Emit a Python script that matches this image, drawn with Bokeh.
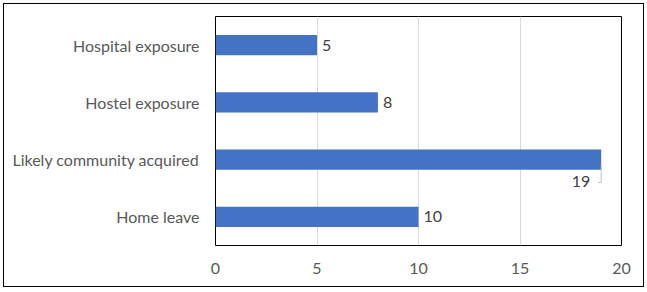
from bokeh.plotting import figure
from bokeh.models import ColumnDataSource, Range1d, FactorRange, FixedTicker, InlineStyleSheet
from bokeh.transform import dodge
from bokeh.core.properties import value
from bokeh.embed import file_html
from bokeh.resources import INLINE

categories = ["Hospital exposure", "Hostel exposure", "Likely community acquired", "Home leave"]
counts = [5, 8, 19, 10]
x_ticks = [0, 5, 10, 15, 20]

FONT = "Lato"
LABEL_COLOR = "#595959"
BAR_COLOR = "#4472C4"

p = figure(width=647, height=292, output_backend="svg", toolbar_location=None,
           y_range=FactorRange(factors=list(reversed(categories))),
           x_range=Range1d(0, 20),
           min_border_left=215, min_border_right=26, min_border_top=16, min_border_bottom=47)

# outer chart border (drawn as an overlay on the figure's host element)
p.stylesheets = [InlineStyleSheet(css="""
:host { position: relative; }
:host::after {
  content: ""; position: absolute; left: 3px; top: 3px; right: 3px; bottom: 5px;
  border: 1px solid black; pointer-events: none; z-index: 1000;
}
""")]

src = ColumnDataSource(dict(cat=categories, val=counts, lbl=[str(v) for v in counts]))
p.hbar(y="cat", right="val", left=0, height=0.35, source=src, color=BAR_COLOR, line_color=None)

maxv = max(counts)
normal = ColumnDataSource(dict(cat=[c for c, v in zip(categories, counts) if v != maxv],
                               val=[v for v in counts if v != maxv],
                               lbl=[str(v) for v in counts if v != maxv]))
callout = ColumnDataSource(dict(cat=[c for c, v in zip(categories, counts) if v == maxv],
                                val=[v for v in counts if v == maxv],
                                lbl=[str(v) for v in counts if v == maxv]))

p.text(x="val", y="cat", text="lbl", source=normal, x_offset=5, text_baseline="middle",
       text_align="left", text_font=value(FONT), text_font_size="16px", text_color="#404040")
p.text(x="val", y="cat", text="lbl", source=callout, x_offset=-11, y_offset=22, text_baseline="middle",
       text_align="right", text_font=value(FONT), text_font_size="16px", text_color="#404040")

# leader line for callout label
p.segment(x0="val", x1="val", y0=dodge("cat", -0.1, range=p.y_range), y1=dodge("cat", -0.4, range=p.y_range),
          source=callout, line_color="#bfbfbf", line_width=1)
p.segment(x0="val", x1=dodge("val", -0.15), y0=dodge("cat", -0.4, range=p.y_range),
          y1=dodge("cat", -0.4, range=p.y_range), source=callout, line_color="#bfbfbf", line_width=1)

p.outline_line_color = "black"
p.outline_line_width = 1

p.xaxis.ticker = FixedTicker(ticks=x_ticks)
p.xgrid.ticker = FixedTicker(ticks=x_ticks)
p.xgrid.grid_line_color = "#d9d9d9"
p.ygrid.grid_line_color = None

for ax in (p.xaxis, p.yaxis):
    ax.axis_line_color = None
    ax.major_tick_line_color = None
    ax.minor_tick_line_color = None
    ax.major_label_text_font = FONT
    ax.major_label_text_font_size = "16px"
    ax.major_label_text_color = LABEL_COLOR
p.xaxis.major_label_standoff = 11
p.yaxis.major_label_standoff = 10

open("out.html", "w").write(file_html(p, INLINE))
